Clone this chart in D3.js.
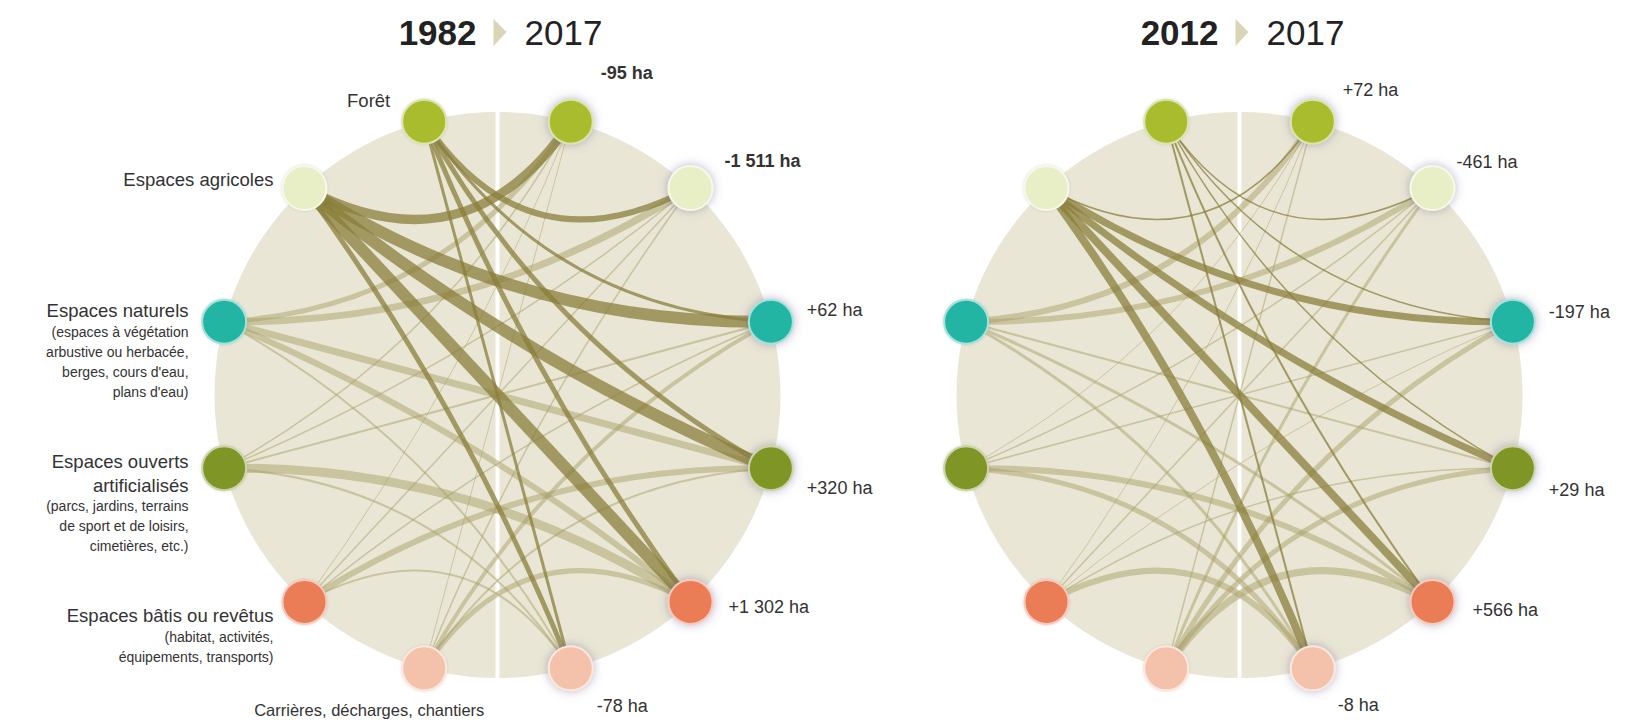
<!DOCTYPE html>
<html>
<head>
<meta charset="utf-8">
<style>
  body { margin: 0; background: #fff; }
  svg { display: block; font-family: 'Liberation Sans', Arial, sans-serif; }
  .year { font-size: 35px; fill: #222; }
  .cat { font-size: 18.5px; fill: #333; }
  .cat.bottom { font-size: 16.5px; }
  .sub { font-size: 14px; fill: #333; }
  .val { font-size: 18px; fill: #333; }
</style>
</head>
<body>
<svg width="1633" height="723"></svg>
<script src="https://d3js.org/d3.v7.min.js"></script>
<script>
// categories, from top to bottom on each side of the circle
const categories = ["Forêt", "Espaces agricoles", "Espaces naturels", "Espaces ouverts artificialisés", "Espaces bâtis ou revêtus", "Carrières, décharges, chantiers"];
const catMain = [["Forêt"], ["Espaces agricoles"], ["Espaces naturels"], ["Espaces ouverts", "artificialisés"], ["Espaces bâtis ou revêtus"], ["Carrières, décharges, chantiers"]];
const catSub = [[], [], ["(espaces à végétation", "arbustive ou herbacée,", "berges, cours d'eau,", "plans d'eau)"], ["(parcs, jardins, terrains", "de sport et de loisirs,", "cimetières, etc.)"], ["(habitat, activités,", "équipements, transports)"], []];
const catColors = ["#a9bc2e", "#e8efc6", "#23b5a4", "#7f9627", "#ea7b56", "#f4c2ab"];

const periods = [["1982", "2017"], ["2012", "2017"]];
const netLabels = [
  ["-95 ha", "-1 511 ha", "+62 ha", "+320 ha", "+1 302 ha", "-78 ha"],
  ["+72 ha", "-461 ha", "-197 ha", "+29 ha", "+566 ha", "-8 ha"]
];

// flows in ha, rows = start year category, columns = 2017 category (estimated from band widths)
const flows1982 = [
  [0, 160, 40, 111, 111, 40],
  [360, 0, 640, 640, 640, 111],
  [111, 218, 0, 218, 160, 18],
  [10, 10, 18, 0, 360, 18],
  [4, 10, 10, 160, 0, 18],
  [4, 10, 71, 18, 111, 0]
];
const flows2012 = [
  [0, 10, 10, 10, 18, 18],
  [10, 0, 218, 218, 284, 284],
  [160, 160, 0, 18, 40, 40],
  [4, 10, 10, 0, 160, 111],
  [4, 10, 4, 10, 0, 160],
  [10, 40, 111, 111, 218, 0]
];
const flowSets = [flows1982, flows2012];

// layout
const R = 283, CY = 395, nodeR = 22;
const centers = [497.5, 1239.5];
const nodeAngles = [75, 47, 15, -15, -47, -75];
const valOffset = [
  [[30, -49], [34, -27], [36, -12], [36, 19], [38, 5], [26, 37]],
  [[30, -32], [24, -26], [36, -10], [36, 21], [40, 8], [25, 36]]
];
const catOffset = [[-34, -21, "end"], [-31, -9, "end"], [-35.6, -11, "end"], [-35.6, -7, "end"], [-31, 14, "end"], [-55, 42, "middle"]];
const boldVals = [[0, 1], []];

const svg = d3.select("svg");
const defs = svg.append("defs");
defs.append("filter").attr("id", "glow").attr("x", "-60%").attr("y", "-60%").attr("width", "220%").attr("height", "220%")
  .append("feDropShadow").attr("dx", 0).attr("dy", 0).attr("stdDeviation", 5)
  .attr("flood-color", "#6d6898").attr("flood-opacity", 0.5);
defs.append("filter").attr("id", "soft").attr("x", "-50%").attr("y", "-50%").attr("width", "200%").attr("height", "200%")
  .append("feDropShadow").attr("dx", 0).attr("dy", 0).attr("stdDeviation", 1.5)
  .attr("flood-color", "#999").attr("flood-opacity", 0.35);

const rightAngle = d3.scaleOrdinal().domain(d3.range(6)).range(nodeAngles);
const leftAngle = i => 180 - rightAngle(i);
const bandWidth = d3.scaleSqrt().domain([0, 1000]).range([0, 15]);

function pos(cx, deg) {
  const a = deg * Math.PI / 180;
  return [cx + R * Math.cos(a), CY - R * Math.sin(a)];
}

periods.forEach((per, p) => {
  const cx = centers[p];
  const g = svg.append("g").attr("class", "panel");

  // background disc and divider
  g.append("circle").attr("cx", cx).attr("cy", CY).attr("r", R).attr("fill", "#e9e6d5");
  g.append("rect").attr("x", cx - 2).attr("y", CY - R - 2).attr("width", 4).attr("height", 2 * R + 4).attr("fill", "#fff");

  // title
  const t = g.append("g").attr("class", "title");
  t.append("text").attr("class", "year").attr("x", cx - 21).attr("y", 45).attr("text-anchor", "end")
    .attr("font-weight", "bold").text(per[0]);
  t.append("path").attr("d", `M${cx - 4},19L${cx + 9},32L${cx - 4},46Z`).attr("fill", "#dbd5b8");
  t.append("text").attr("class", "year").attr("x", cx + 27).attr("y", 45).text(per[1]);

  const L = categories.map((c, i) => pos(cx, leftAngle(i)));
  const Rn = categories.map((c, i) => pos(cx, rightAngle(i)));

  // links
  const links = [];
  flowSets[p].forEach((row, s) => row.forEach((v, k) => {
    if (v > 0) links.push({ s, k, v, dark: s < 2 });
  }));
  links.sort((a, b) => (a.dark - b.dark) || (b.v - a.v));

  g.append("g").attr("fill", "none").selectAll("path").data(links).join("path")
    .attr("d", d => {
      const a = L[d.s], b = Rn[d.k];
      const mx = (a[0] + b[0]) / 2, my = (a[1] + b[1]) / 2;
      const qx = cx + (mx - cx) * 0.5, qy = CY + (my - CY) * 0.5;
      const path = d3.path();
      path.moveTo(a[0], a[1]);
      path.quadraticCurveTo(qx, qy, b[0], b[1]);
      return path.toString();
    })
    .attr("stroke", d => d.dark ? "#8a7e3a" : "#aaa067")
    .attr("stroke-opacity", d => d.dark ? 0.75 : 0.5)
    .attr("stroke-width", d => Math.max(0.9, bandWidth(d.v)));

  // nodes
  const nodeStroke = c => d3.interpolateRgb(c, "#ffffff")(0.6);
  g.append("g").selectAll("circle").data(categories).join("circle")
    .attr("cx", (d, i) => L[i][0]).attr("cy", (d, i) => L[i][1]).attr("r", nodeR)
    .attr("fill", (d, i) => catColors[i]).attr("stroke", (d, i) => nodeStroke(catColors[i])).attr("stroke-width", 2)
    .attr("filter", "url(#soft)");
  g.append("g").selectAll("circle").data(categories).join("circle")
    .attr("cx", (d, i) => Rn[i][0]).attr("cy", (d, i) => Rn[i][1]).attr("r", nodeR)
    .attr("fill", (d, i) => catColors[i]).attr("stroke", (d, i) => nodeStroke(catColors[i])).attr("stroke-width", 2)
    .attr("filter", "url(#glow)");

  // net change labels
  g.append("g").selectAll("text").data(netLabels[p]).join("text")
    .attr("class", "val")
    .attr("x", (d, i) => Rn[i][0] + valOffset[p][i][0])
    .attr("y", (d, i) => Rn[i][1] + valOffset[p][i][1])
    .attr("dy", "0.35em")
    .attr("font-weight", (d, i) => boldVals[p].includes(i) ? "bold" : "normal")
    .text(d => d);

  // category labels only on the first panel
  if (p === 0) {
    categories.forEach((c, i) => {
      const [dx, dy, anchor] = catOffset[i];
      const x = L[i][0] + dx;
      let y = L[i][1] + dy;
      const tg = g.append("g").attr("text-anchor", anchor);
      catMain[i].forEach((line, j) => {
        if (j > 0) y += 24;
        tg.append("text").attr("class", i === 5 ? "cat bottom" : "cat").attr("x", x).attr("y", y).attr("dy", "0.35em").text(line);
      });
      catSub[i].forEach((line, j) => {
        y += j === 0 ? 21 : 20;
        tg.append("text").attr("class", "sub").attr("x", x).attr("y", y).attr("dy", "0.35em").text(line);
      });
    });
  }
});
</script>
</body>
</html>
